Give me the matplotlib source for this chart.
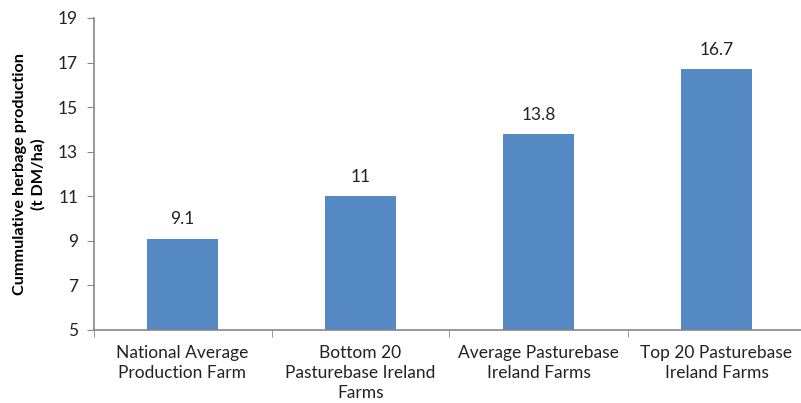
import matplotlib
matplotlib.use("Agg")
import matplotlib.pyplot as plt
from matplotlib.ticker import FixedLocator

categories = ["National Average\nProduction Farm", "Bottom 20\nPasturebase Ireland\nFarms",
              "Average Pasturebase\nIreland Farms", "Top 20 Pasturebase\nIreland Farms"]
values = [9.1, 11, 13.8, 16.7]
labels = ["9.1", "11", "13.8", "16.7"]
yticks = [5, 7, 9, 11, 13, 15, 17, 19]

plt.rcParams['font.family'] = ['Lato', 'DejaVu Sans']

fig = plt.figure(figsize=(8.01, 4.03), dpi=100)
ax = fig.add_axes([93.5/801, 73/403, 712/801, 312/403])
x = list(range(len(values)))
ax.bar(x, [v - 5 for v in values], bottom=5, width=0.4, color='#5589C4', zorder=2)
ax.set_xlim(-0.5, 3.5)
ax.set_ylim(5, 19)
ax.set_yticks(yticks)
ax.set_yticklabels([str(t) for t in yticks], fontsize=12.5, color='#222222')
ax.set_xticks(x)
ax.set_xticklabels(categories, fontsize=12.5, color='#222222', linespacing=1.3)
ax.tick_params(axis='x', length=0, pad=11)
ax.xaxis.set_minor_locator(FixedLocator([-0.5, 0.5, 1.5, 2.5, 3.5]))
ax.tick_params(axis='x', which='minor', length=5, color='#868686', direction='out')
ax.tick_params(axis='y', length=5, color='#868686', direction='out', pad=6)
for s in ['top', 'right']:
    ax.spines[s].set_visible(False)
for s in ['left', 'bottom']:
    ax.spines[s].set_color('#868686')
    ax.spines[s].set_linewidth(1.2)
for xi, v, l in zip(x, values, labels):
    ax.text(xi, v + 0.5, l, ha='center', va='bottom', fontsize=12.5, color='#222222')
ax.set_ylabel("Cummulative herbage production\n(t DM/ha)", fontsize=11.7, fontweight='bold',
              labelpad=9, linespacing=1.4)
fig.savefig("out.png", dpi=100)
